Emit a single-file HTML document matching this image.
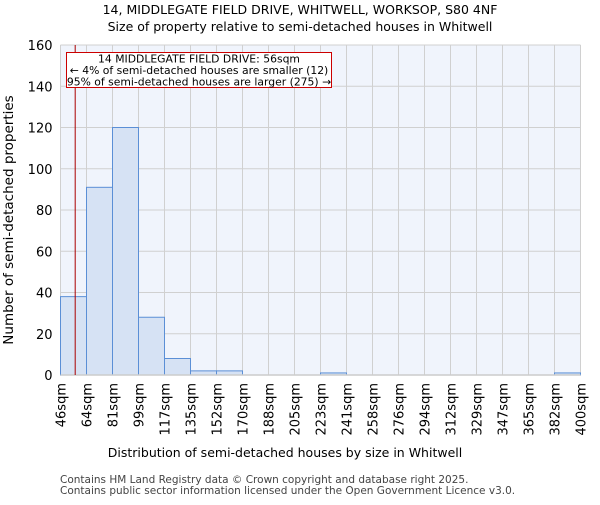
<!DOCTYPE html>
<html><head><meta charset="utf-8"><style>body{margin:0;background:#fff}svg{font-family:"DejaVu Sans","Liberation Sans",sans-serif}</style></head>
<body>
<svg id="c" width="600" height="500">
<text x="300" y="14" text-anchor="middle" font-size="12.5">14, MIDDLEGATE FIELD DRIVE, WHITWELL, WORKSOP, S80 4NF</text>
<text x="300" y="31" text-anchor="middle" font-size="12.5">Size of property relative to semi-detached houses in Whitwell</text>
<rect x="60.5" y="45" width="520" height="330" fill="#f0f4fc"/>
<g id="grid"></g><g id="bars"></g><g id="axes"></g>
<text x="285" y="457" text-anchor="middle" font-size="12.5">Distribution of semi-detached houses by size in Whitwell</text>
<text transform="translate(13,220) rotate(-90)" text-anchor="middle" font-size="13.5">Number of semi-detached properties</text>
<text x="60" y="483" font-size="10.5" fill="#444">Contains HM Land Registry data © Crown copyright and database right 2025.</text>
<text x="60" y="494" font-size="10.5" fill="#444">Contains public sector information licensed under the Open Government Licence v3.0.</text>
</svg>
<script>
const categories=["46sqm","64sqm","81sqm","99sqm","117sqm","135sqm","152sqm","170sqm","188sqm","205sqm","223sqm","241sqm","258sqm","276sqm","294sqm","312sqm","329sqm","347sqm","365sqm","382sqm","400sqm"];
const values=[38,91,120,28,8,2,2,0,0,0,1,0,0,0,0,0,0,0,0,1];
const yTicks=[0,20,40,60,80,100,120,140,160];
const propertySize=56;
const binStart=46, binEnd=400;
const NS="http://www.w3.org/2000/svg";
const L=60.5,R=580.5,T=45,B=375;
const bw=(R-L)/values.length;
const y=v=>B-(v/160)*(B-T);
const xs=v=>L+(v-binStart)/(binEnd-binStart)*(R-L);
function mk(t,a,p){const e=document.createElementNS(NS,t);for(const k in a)e.setAttribute(k,a[k]);document.getElementById(p).appendChild(e);return e;}
yTicks.forEach(t=>{
 const g=mk("line",{x1:L,x2:R,y1:y(t),y2:y(t),stroke:"#d0d0d0","stroke-width":1},"grid");
 
 
 const tx=mk("text",{x:L-8,y:y(t)+5,"text-anchor":"end","font-size":13},"axes");tx.textContent=t;
 
 
});
categories.forEach((c,i)=>{
 const x=L+i*bw;
 const g=mk("line",{x1:x,x2:x,y1:T,y2:B,stroke:"#d0d0d0","stroke-width":1},"grid");
 
 
 const tx=mk("text",{transform:`translate(${x+5},${B+8}) rotate(-90)`,"text-anchor":"end","font-size":13},"axes");tx.textContent=c;
 
 
});
values.forEach((v,i)=>{
 if(v<=0)return;
 const r=mk("rect",{x:L+i*bw,y:y(v),width:bw,height:B-y(v),fill:"#d6e2f4",stroke:"#5b8fd6","stroke-width":1},"bars");
 
 
});
const ax=mk("line",{x1:L,x2:R,y1:B,y2:B,stroke:"#ccc","stroke-width":1.5},"axes");


const px=xs(propertySize);
const ml=mk("line",{x1:px,x2:px,y1:T,y2:B,stroke:"#aa0000","stroke-width":1},"axes");


const box=mk("rect",{x:66.5,y:52.5,width:265,height:35,fill:"#fff",stroke:"#cc0000","stroke-width":1},"axes");


["14 MIDDLEGATE FIELD DRIVE: 56sqm","← 4% of semi-detached houses are smaller (12)","95% of semi-detached houses are larger (275) →"].forEach((s,i)=>{
 const t=mk("text",{x:199,y:62.5+i*11.5,"text-anchor":"middle","font-size":10.8},"axes");t.textContent=s;
 
 
});
</script>
</body></html>
